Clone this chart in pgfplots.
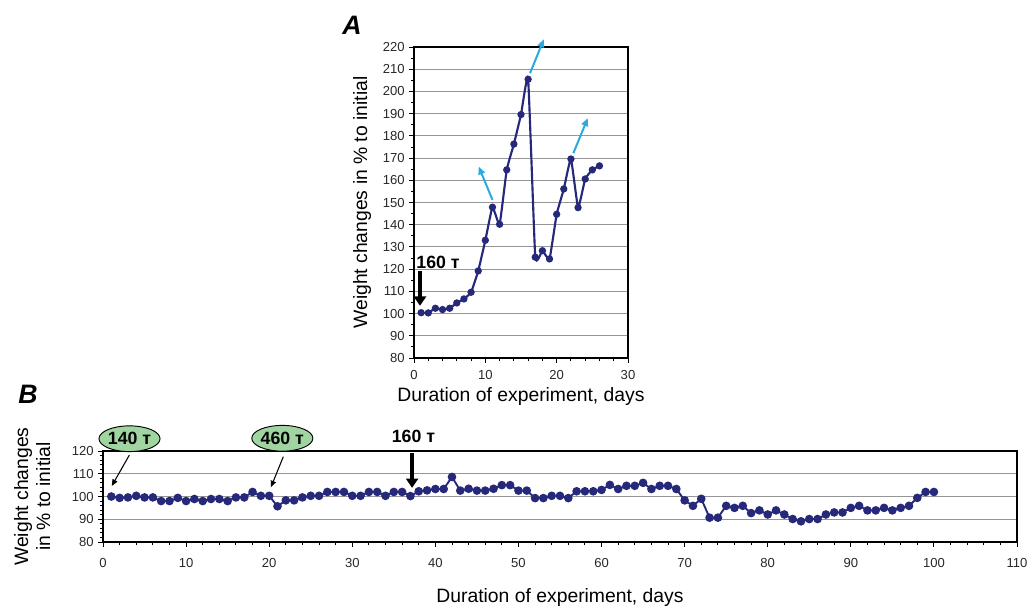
\documentclass[border=0pt]{standalone}
\usepackage{fontspec}
\setmainfont{Liberation Sans}
\usepackage{pgfplots}
\pgfplotsset{compat=1.18}
\usetikzlibrary{arrows.meta,shapes.geometric}

\definecolor{navy}{RGB}{38,40,122}
\definecolor{skyarrow}{RGB}{41,171,226}
\definecolor{gridgray}{RGB}{150,150,150}
\definecolor{bubble}{RGB}{160,212,160}
\definecolor{ticktext}{RGB}{40,40,40}

\pgfplotsset{
  panel/.style={
    scale only axis,
    anchor=south west,
    clip=false,
    axis line style={black, line width=0.9pt},
    ymajorgrids,
    grid style={gridgray, line width=0.7pt},
    tick align=outside,
    xtick pos=bottom, ytick pos=left,
    major tick length=3.5pt, minor tick length=2.5pt,
    every tick/.style={black, line width=0.7pt},
    tick label style={font=\fontsize{9.8}{11}\selectfont, text=ticktext},
    /pgf/number format/assume math mode=true,
    label style={font=\fontsize{14.5}{17}\selectfont},
  }
}

\begin{document}
\begin{tikzpicture}
\useasboundingbox (0,0) rectangle (773.25pt,-455.25pt);

% panel A
\begin{axis}[panel,
  at={(310.5pt,-268.5pt)}, width=160.5pt, height=233.25pt,
  xmin=0, xmax=30, ymin=80, ymax=220,
  xtick={0,10,20,30}, minor x tick num=4,
  ytick={80,90,...,220}, minor y tick num=1,
  xticklabel style={yshift=-2pt},
  xlabel={Duration of experiment, days},
  xlabel style={at={(axis description cs:0.5,0)}, anchor=center, yshift=-28.5pt},
  ylabel={Weight changes in \% to initial},
  ylabel style={at={(axis description cs:0,0.5)}, anchor=center, rotate=0, yshift=39pt},
]
\addplot[navy, line width=1.6pt, smooth, tension=0.22, mark=*, mark size=1.9pt,
  mark options={solid, fill=navy}] coordinates {
  (1,100.4) (2,100.3) (3,102.4) (4,101.8) (5,102.4) (6,104.8) (7,106.6)
  (8,109.6) (9,119.2) (10,133) (11,147.9) (12,140.2) (13,164.7) (14,176.3)
  (15,189.6) (16,205.5) (17,125.4) (18,128.3) (19,124.6) (20,144.7)
  (21,156.1) (22,169.6) (23,147.7) (24,160.6) (25,164.7) (26,166.5)
};
\draw[skyarrow, line width=1.5pt, -{Triangle[length=6pt,width=5pt]}]
  (axis cs:11,151.2) -- (axis cs:9.07,166.2);
\draw[skyarrow, line width=1.5pt, -{Triangle[length=6pt,width=5pt]}]
  (axis cs:16.27,208.2) -- (axis cs:18.2,223.5);
\draw[skyarrow, line width=1.5pt, -{Triangle[length=6pt,width=5pt]}]
  (axis cs:22.34,172.2) -- (axis cs:24.36,188);
\node[anchor=west, font=\bfseries\fontsize{13.3}{15}\selectfont, inner sep=0pt]
  at (axis cs:0.3,123.2) {160 т};
\draw[black, line width=3pt, -{Triangle[length=7pt,width=9pt]}]
  (axis cs:0.84,119) -- (axis cs:0.84,103.5);
\end{axis}

% panel B
\begin{axis}[panel,
  at={(77.25pt,-406.5pt)}, width=685.5pt, height=68.25pt,
  xmin=0, xmax=110, ymin=80, ymax=120,
  xtick={0,10,...,110}, minor x tick num=4,
  ytick={80,90,...,120}, minor y tick num=4,
  xticklabel style={yshift=-5pt},
  xlabel={Duration of experiment, days},
  xlabel style={at={(axis description cs:0.5,0)}, anchor=center, yshift=-41.25pt},
  ylabel={Weight changes\\in \% to initial},
  ylabel style={at={(axis description cs:0,0.5)}, anchor=center, yshift=53pt,
    align=center, font=\fontsize{14.5}{16.5}\selectfont},
]
\addplot[navy, line width=1.4pt, mark=*, mark size=2.5pt,
  mark options={solid, fill=navy}] coordinates {
  (1,100) (2,99.4) (3,99.6) (4,100.3) (5,99.6) (6,99.6) (7,98) (8,98)
  (9,99.4) (10,98) (11,98.9) (12,98) (13,98.9) (14,98.9) (15,98) (16,99.6)
  (17,99.6) (18,102) (19,100.3) (20,100.3) (21,95.7) (22,98.3) (23,98.3)
  (24,99.6) (25,100.3) (26,100.3) (27,102) (28,102) (29,102) (30,100.3)
  (31,100.3) (32,102) (33,102) (34,100.3) (35,102) (36,102) (37,100.2)
  (38,102.3) (39,102.7) (40,103.3) (41,103.3) (42,108.6) (43,102.6)
  (44,103.4) (45,102.6) (46,102.6) (47,103.4) (48,105) (49,105) (50,102.6)
  (51,102.6) (52,99.3) (53,99.3) (54,100.3) (55,100.3) (56,99.3) (57,102.3)
  (58,102.3) (59,102.3) (60,102.9) (61,105.1) (62,103.3) (63,104.7)
  (64,104.7) (65,106) (66,103.3) (67,104.7) (68,104.7) (69,103.3) (70,98.3)
  (71,95.9) (72,99) (73,90.7) (74,90.7) (75,95.9) (76,95) (77,95.9)
  (78,92.7) (79,93.9) (80,92.1) (81,93.9) (82,92.1) (83,90.1) (84,89.1)
  (85,90.1) (86,90.1) (87,92.1) (88,93) (89,93) (90,95) (91,95.9) (92,93.9)
  (93,93.9) (94,95) (95,93.9) (96,95) (97,95.9) (98,99.4) (99,102) (100,102)
};
\draw[black, line width=0.8pt, -{Triangle[length=5pt,width=4pt]}]
  (axis cs:3.17,118.2) -- (axis cs:1.05,104.6);
\draw[black, line width=0.8pt, -{Triangle[length=5pt,width=4pt]}]
  (axis cs:21.7,117.5) -- (axis cs:20.2,104.0);
\node[ellipse, draw=black, line width=0.7pt, fill=bubble, minimum width=43pt,
  minimum height=19.3pt, inner sep=0pt, font=\bfseries\fontsize{13.3}{15}\selectfont]
  at (axis cs:3.19,125.4) {140 т};
\node[ellipse, draw=black, line width=0.7pt, fill=bubble, minimum width=42.5pt,
  minimum height=19.3pt, inner sep=0pt, font=\bfseries\fontsize{13.3}{15}\selectfont]
  at (axis cs:21.58,125.6) {460 т};
\node[font=\bfseries\fontsize{13.3}{15}\selectfont, inner sep=0pt]
  at (axis cs:37.36,126.4) {160 т};
\draw[black, line width=3pt, -{Triangle[length=7pt,width=9pt]}]
  (axis cs:37.2,119) -- (axis cs:37.2,103.8);
\end{axis}

\node[font=\bfseries\itshape\fontsize{20}{22}\selectfont] at (264pt,-19pt) {A};
\node[font=\bfseries\itshape\fontsize{20}{22}\selectfont] at (21pt,-296pt) {B};
\end{tikzpicture}
\end{document}
